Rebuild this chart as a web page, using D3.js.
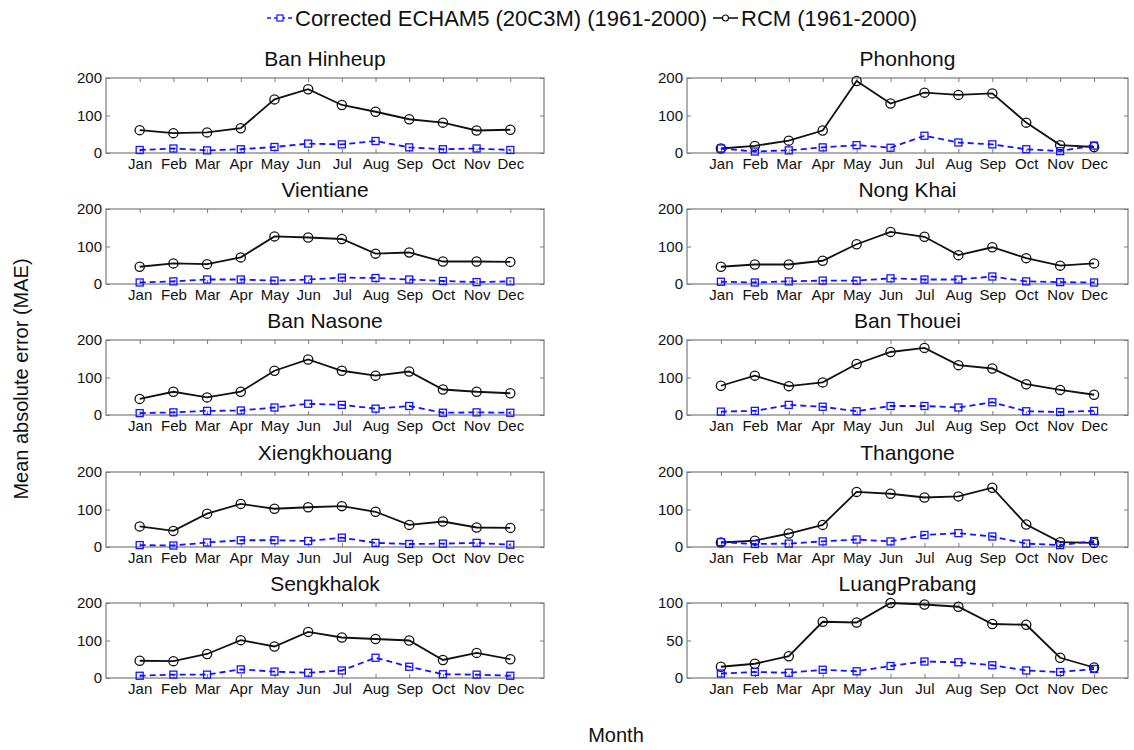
<!DOCTYPE html>
<html>
<head>
<meta charset="utf-8">
<script src="https://cdn.jsdelivr.net/npm/d3@7/dist/d3.min.js"></script>
<style>
  html, body { margin: 0; padding: 0; background: #fff; }
  svg { display: block; }
  text { font-family: "Liberation Sans", Arial, Helvetica, sans-serif; fill: #111; }
</style>
</head>
<body>
<svg id="chart" width="1134" height="750"></svg>
<script>
// Monthly mean absolute error (MAE) per station, 1961-2000
const months = ["Jan", "Feb", "Mar", "Apr", "May", "Jun", "Jul", "Aug", "Sep", "Oct", "Nov", "Dec"];

const stations = [
  "Ban Hinheup", "Phonhong",
  "Vientiane", "Nong Khai",
  "Ban Nasone", "Ban Thouei",
  "Xiengkhouang", "Thangone",
  "Sengkhalok", "LuangPrabang"
];

const seriesNames = ["Corrected ECHAM5 (20C3M) (1961-2000)", "RCM (1961-2000)"];

// Corrected ECHAM5 (20C3M)
const echamMAE = [
  [8, 12, 7, 10, 16, 25, 23, 32, 15, 10, 12, 8],
  [12, 4, 7, 15, 21, 14, 46, 28, 23, 10, 5, 20],
  [4, 7, 12, 12, 9, 12, 17, 16, 12, 8, 5, 7],
  [6, 4, 7, 9, 9, 15, 12, 12, 20, 7, 5, 4],
  [5, 7, 11, 12, 20, 30, 27, 17, 24, 6, 7, 6],
  [9, 11, 27, 22, 10, 24, 24, 20, 34, 10, 8, 11],
  [5, 4, 12, 18, 18, 16, 25, 11, 8, 9, 11, 6],
  [13, 8, 9, 15, 20, 15, 32, 37, 28, 9, 5, 16],
  [6, 9, 9, 23, 17, 14, 20, 54, 30, 10, 9, 6],
  [6, 8, 7, 11, 9, 16, 22, 21, 17, 10, 8, 12]
];

// Regional climate model
const rcmMAE = [
  [61, 53, 55, 66, 143, 170, 128, 110, 90, 81, 60, 62],
  [12, 19, 33, 60, 192, 132, 161, 155, 159, 81, 21, 16],
  [46, 55, 53, 71, 127, 124, 120, 81, 84, 60, 60, 59],
  [46, 52, 52, 62, 106, 139, 126, 77, 98, 69, 49, 55],
  [43, 62, 47, 62, 118, 148, 118, 105, 116, 68, 62, 58],
  [78, 105, 77, 87, 136, 168, 179, 133, 124, 82, 67, 54],
  [55, 43, 89, 115, 102, 106, 109, 94, 59, 68, 52, 51],
  [12, 17, 36, 59, 147, 142, 132, 135, 158, 60, 13, 11],
  [46, 45, 64, 101, 84, 123, 108, 104, 100, 48, 67, 50],
  [15, 19, 29, 75, 74, 100, 98, 95, 72, 71, 27, 14]
];

const yLimits = [200, 200, 200, 200, 200, 200, 200, 200, 200, 100];
const yTickSets = [
  [0, 100, 200], [0, 100, 200], [0, 100, 200], [0, 100, 200], [0, 100, 200],
  [0, 100, 200], [0, 100, 200], [0, 100, 200], [0, 100, 200], [0, 50, 100]
];

// ---- layout ----
const colLeft = [106, 687];
const panelW = [438, 441];
const rowTop = [78, 209, 340, 472, 603];
const panelH = 75;

const blue = "#1414ff";
const axisGrey = "#7a7a7a";

const svg = d3.select("#chart");

stations.forEach((name, i) => {
  const col = i % 2, row = Math.floor(i / 2);
  const w = panelW[col];
  const g = svg.append("g")
    .attr("transform", `translate(${colLeft[col]},${rowTop[row]})`);

  const x = d3.scaleLinear().domain([0, 13]).range([0, w]);
  const y = d3.scaleLinear().domain([0, yLimits[i]]).range([panelH, 0]);
  const monthIdx = d3.range(1, 13);

  // box
  g.append("rect")
    .attr("x", 0).attr("y", 0).attr("width", w).attr("height", panelH)
    .attr("fill", "none").attr("stroke", axisGrey).attr("stroke-width", 1.2);

  // axes with inward ticks
  const bottom = g.append("g").attr("transform", `translate(0,${panelH})`)
    .call(d3.axisBottom(x).tickValues(monthIdx).tickFormat(d => months[d - 1])
      .tickSize(-4).tickPadding(5));
  const top = g.append("g")
    .call(d3.axisTop(x).tickValues(monthIdx).tickFormat("").tickSize(-4));
  const left = g.append("g")
    .call(d3.axisLeft(y).tickValues(yTickSets[i]).tickSize(-4).tickPadding(4));
  const right = g.append("g").attr("transform", `translate(${w},0)`)
    .call(d3.axisRight(y).tickValues(yTickSets[i]).tickFormat("").tickSize(-4));

  [bottom, top, left, right].forEach(a => {
    a.select(".domain").remove();
    a.selectAll(".tick line").attr("stroke", axisGrey).attr("stroke-width", 1);
    a.selectAll(".tick text")
      .attr("font-size", 15)
      .attr("font-family", '"Liberation Sans", Arial, sans-serif')
      .attr("fill", "#111");
  });

  // panel title
  g.append("text")
    .attr("x", w / 2).attr("y", -12)
    .attr("text-anchor", "middle")
    .attr("font-size", 21)
    .text(name);

  const line = d3.line().x((d, j) => x(j + 1)).y(d => y(d));

  // RCM series
  g.append("path").datum(rcmMAE[i])
    .attr("d", line).attr("fill", "none")
    .attr("stroke", "#111").attr("stroke-width", 1.8);
  g.selectAll(".rcm").data(rcmMAE[i]).enter().append("circle")
    .attr("cx", (d, j) => x(j + 1)).attr("cy", d => y(d)).attr("r", 4.6)
    .attr("fill", "none").attr("stroke", "#111").attr("stroke-width", 1.3);

  // ECHAM5 series
  g.append("path").datum(echamMAE[i])
    .attr("d", line).attr("fill", "none")
    .attr("stroke", blue).attr("stroke-width", 1.8)
    .attr("stroke-dasharray", "6,4");
  g.selectAll(".ech").data(echamMAE[i]).enter().append("rect")
    .attr("x", (d, j) => x(j + 1) - 3.5).attr("y", d => y(d) - 3.5)
    .attr("width", 7).attr("height", 7)
    .attr("fill", "none").attr("stroke", blue).attr("stroke-width", 1.3);
});

// ---- legend ----
const legend = svg.append("g");
const legendItems = [
  { x: 267, color: blue, dash: "4,3", marker: "square" },
  { x: 713, color: "#111", dash: null, marker: "circle" }
];
legendItems.forEach((it, k) => {
  const cy = 18;
  legend.append("line")
    .attr("x1", it.x).attr("x2", it.x + 25).attr("y1", cy).attr("y2", cy)
    .attr("stroke", it.color).attr("stroke-width", 1.6)
    .attr("stroke-dasharray", it.dash);
  if (it.marker === "square") {
    legend.append("rect").attr("x", it.x + 10).attr("y", cy - 3)
      .attr("width", 6).attr("height", 6)
      .attr("fill", "#fff").attr("stroke", it.color).attr("stroke-width", 1.2);
  } else {
    legend.append("circle").attr("cx", it.x + 12.5).attr("cy", cy).attr("r", 3)
      .attr("fill", "#fff").attr("stroke", it.color).attr("stroke-width", 1.2);
  }
  legend.append("text")
    .attr("x", it.x + 28).attr("y", 26)
    .attr("font-size", 22)
    .text(seriesNames[k]);
});

// ---- axis titles ----
svg.append("text")
  .attr("transform", "translate(28,379) rotate(-90)")
  .attr("text-anchor", "middle")
  .attr("font-size", 20)
  .text("Mean absolute error (MAE)");

svg.append("text")
  .attr("x", 616).attr("y", 742)
  .attr("text-anchor", "middle")
  .attr("font-size", 20)
  .text("Month");
</script>
</body>
</html>
